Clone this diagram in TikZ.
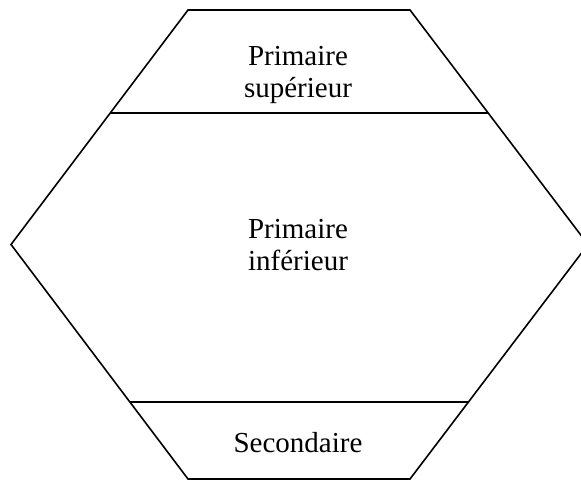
\documentclass[tikz,border=0pt]{standalone}
\usepackage{fontspec}
\setmainfont{Liberation Serif}
\usetikzlibrary{calc}
\begin{document}
\begin{tikzpicture}[x=1pt,y=-1pt,
  edge/.style={line width=1.6pt,line join=miter},
  label/.style={font=\fontsize{29}{32}\selectfont,align=center,anchor=base,inner sep=0pt}]
\useasboundingbox (0,0) rectangle (581,480);
\coordinate (tl) at (188,10);
\coordinate (tr) at (410,10);
\coordinate (r) at (588,244.5);
\coordinate (br) at (410,479);
\coordinate (bl) at (188,479);
\coordinate (l) at (11,244.5);
\draw[edge] (tl) -- (tr) -- (r) -- (br) -- (bl) -- (l) -- cycle;
\coordinate (a1) at ($(tl)!0.4402!(l)$);
\coordinate (a2) at ($(tr)!0.4402!(r)$);
\coordinate (b1) at ($(l)!0.672!(bl)$);
\coordinate (b2) at ($(r)!0.672!(br)$);
\draw[edge] (a1) -- (a2);
\draw[edge] (b1) -- (b2);
\node[label] (sup) at (298,97) {Primaire\\supérieur};
\node[label] (inf) at (298,270) {Primaire\\inférieur};
\node[label] (sec) at (298,452) {Secondaire};
\end{tikzpicture}
\end{document}
